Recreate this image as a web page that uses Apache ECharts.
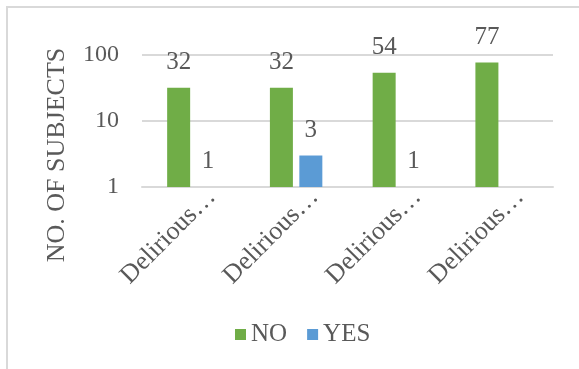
<!DOCTYPE html>
<html>
<head>
<meta charset="utf-8">
<style>
  html, body { margin: 0; padding: 0; background: #ffffff; }
  #chart { width: 579px; height: 369px; }
</style>
<script src="https://cdn.jsdelivr.net/npm/echarts@6/dist/echarts.min.js"></script>
</head>
<body>
<div id="chart"></div>
<script>
// Delirium outcome counts per group (log scale)
const categories = ['Delirious…', 'Delirious…', 'Delirious…', 'Delirious…'];
const noValues = [32, 32, 54, 77];
const yesValues = [1, 3, 1, null];
const seriesNames = ['NO', 'YES'];
const axisTitle = 'NO. OF SUBJECTS';

const FONT = '"Liberation Serif", "Times New Roman", serif';
const TEXT = '#595959';
const GRID = '#d9d9d9';

const chart = echarts.init(document.getElementById('chart'), null, { renderer: 'canvas' });

const labelStyle = {
  show: true,
  position: 'top',
  distance: 13,
  color: TEXT,
  fontFamily: FONT,
  fontSize: 25
};

chart.setOption({
  animation: false,
  backgroundColor: '#ffffff',
  graphic: [{
    type: 'rect',
    shape: { x: 7, y: 7, width: 620, height: 420 },
    style: { fill: 'none', stroke: GRID, lineWidth: 2 },
    silent: true
  }],
  grid: { left: 142, right: 26, top: 55, bottom: 182, containLabel: false },
  legend: {
    data: seriesNames,
    left: 230,
    top: 317,
    itemWidth: 11,
    itemHeight: 11,
    itemGap: 20,
    icon: 'rect',
    textStyle: { color: TEXT, fontFamily: FONT, fontSize: 25 }
  },
  xAxis: {
    type: 'category',
    data: categories,
    axisLine: { show: true, lineStyle: { color: GRID, width: 2 } },
    axisTick: { show: false },
    axisLabel: {
      interval: 0,
      rotate: 45,
      margin: 6,
      verticalAlign: 'top',
      padding: [0, -13, 0, 0],
      color: TEXT,
      fontFamily: FONT,
      fontSize: 26
    }
  },
  yAxis: {
    type: 'log',
    logBase: 10,
    min: 1,
    max: 100,
    name: axisTitle,
    nameLocation: 'middle',
    nameRotate: 90,
    nameGap: 72,
    nameTextStyle: {
      color: TEXT,
      fontFamily: FONT,
      fontSize: 26,
      padding: [0, 68, 0, 0]
    },
    axisLine: { show: false },
    axisTick: { show: false },
    splitLine: { show: true, lineStyle: { color: GRID, width: 2 } },
    axisLabel: {
      margin: 23,
      color: TEXT,
      fontFamily: FONT,
      fontSize: 24
    }
  },
  series: [
    {
      name: seriesNames[0],
      type: 'bar',
      data: noValues,
      barWidth: 23,
      barGap: '28%',
      itemStyle: { color: '#70AD47' },
      label: labelStyle
    },
    {
      name: seriesNames[1],
      type: 'bar',
      data: yesValues,
      barWidth: 23,
      barGap: '28%',
      itemStyle: { color: '#5B9BD5' },
      label: labelStyle
    }
  ]
});
</script>
</body>
</html>
